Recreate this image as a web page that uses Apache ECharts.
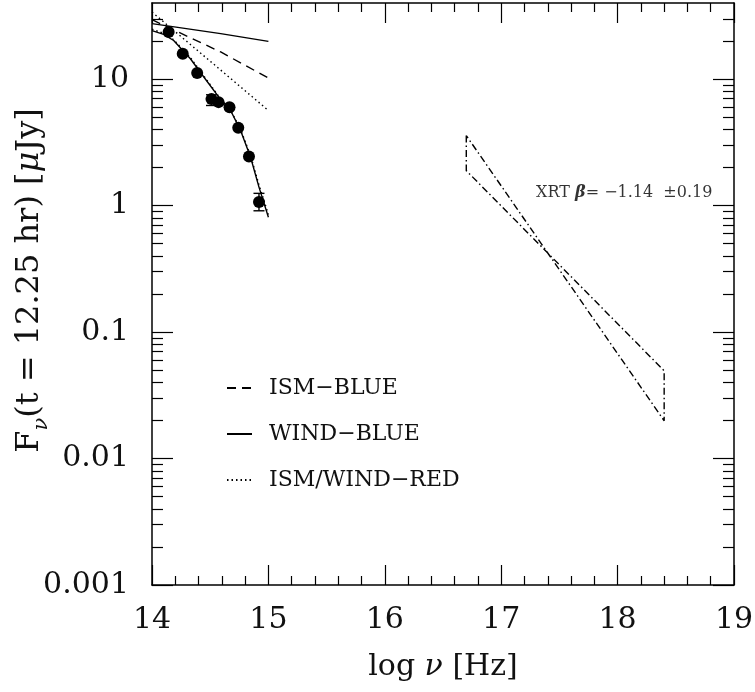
<!DOCTYPE html>
<html>
<head>
<meta charset="utf-8">
<title>SED at 12.25 hr</title>
<script src="https://cdn.jsdelivr.net/npm/echarts@6/dist/echarts.min.js"></script>
<style>
html,body{margin:0;padding:0;background:#fff;}
#chart{width:755px;height:692px;}
</style>
</head>
<body>
<div id="chart"></div>
<script>
// observed optical / NIR points (log nu [Hz], flux [uJy])
var obsNu=[14.143,14.264,14.388,14.511,14.572,14.666,14.741,14.833,14.919];
var obsFlux=[23.6,15.9,11.2,6.95,6.58,6.0,4.12,2.45,1.07];
// visible error bars only
var errNu=[14.511,14.919];
var errHi=[7.52,1.25];
var errLo=[6.19,0.91];

// unabsorbed models
var ismNu=[14.0,14.59,15.0];
var ismBlue=[29.5,16.4,10.2];
var windNu=[14.0,14.59,15.0];
var windBlue=[27.5,22.9,19.9];
var redNu=[14.0,14.59,15.0];
var redFlux=[33.9,11.8,5.65];

// reddened fits through the points
var fitNu=[14.0,14.1,14.186,14.33,14.445,14.574,14.675,14.761,14.847,14.919,15.0];
var fitBlue=[24.2,22.6,20.2,14.5,10.4,7.2,5.65,3.93,2.41,1.40,0.81];
var fitRed=[24.8,23.0,20.5,14.8,10.6,7.3,5.7,4.0,2.48,1.46,0.85];

// XRT bow tie
var xrtNu=[16.7,16.7,18.4,18.4,16.7];
var xrtFlux=[3.58,1.89,0.0494,0.0199,3.58];
var xrtLabelPos=[17.30,1.27];

// axis ticks
var xMin=14,xMax=19;
var yMin=0.001,yMax=40;
var yTickVals=[0.001,0.01,0.1,1,10];
var yTickLabels=['0.001','0.01','0.1','1','10'];
var legendNames=['ISM\u2212BLUE','WIND\u2212BLUE','ISM/WIND\u2212RED'];

var FONT='DejaVu Serif';

function zip(a,b){
    var out=[];
    for(var i=0;i<a.length;i++){ out.push([a[i],b[i]]); }
    return out;
}

var chartObj={
    chart:null,
    init:function(){
        this.chart=echarts.init(document.getElementById('chart'));
        this.chart.setOption(this.buildOption());
    },
    minorVals:function(){
        var vals=[];
        [0.001,0.01,0.1,1,10].forEach(function(d){
            for(var k=2;k<=9;k++){
                var v=parseFloat((d*k).toPrecision(3));
                if(v<yMax){ vals.push(v); }
            }
        });
        return vals;
    },
    yAxisPair:function(pos,withLabels){
        var line={show:true,lineStyle:{color:'#000',width:1.5}};
        var major={
            type:'log',position:pos,min:yMin,max:yMax,
            axisLine:line,
            splitLine:{show:false},
            axisTick:{show:true,inside:true,length:21,customValues:yTickVals,lineStyle:{color:'#000',width:1.2}},
            axisLabel:{show:withLabels,customValues:yTickVals,margin:23,
                fontFamily:FONT,fontSize:30,color:'#111',
                formatter:function(v){
                    for(var i=0;i<yTickVals.length;i++){
                        if(Math.abs(Math.log10(v)-Math.log10(yTickVals[i]))<1e-6){ return yTickLabels[i]; }
                    }
                    return '';
                }}
        };
        var minor={
            type:'log',position:pos,min:yMin,max:yMax,
            axisLine:{show:false},
            splitLine:{show:false},
            axisTick:{show:true,inside:true,length:11,customValues:this.minorVals(),lineStyle:{color:'#000',width:1.2}},
            axisLabel:{show:false}
        };
        return [major,minor];
    },
    xAxisOne:function(pos,withLabels){
        return {
            type:'value',position:pos,min:xMin,max:xMax,interval:1,
            axisLine:{show:true,onZero:false,lineStyle:{color:'#000',width:1.5}},
            splitLine:{show:false},
            axisTick:{show:true,inside:true,length:20,lineStyle:{color:'#000',width:1.2}},
            minorTick:{show:true,splitNumber:5,length:9,lineStyle:{color:'#000',width:1.2}},
            axisLabel:{show:withLabels,margin:20,fontFamily:FONT,fontSize:30,color:'#111'}
        };
    },
    buildOption:function(){
        var xBottom=this.xAxisOne('bottom',true);
        xBottom.name='log {it|\u03bd} [Hz]';
        xBottom.nameLocation='middle';
        xBottom.nameGap=67;
        xBottom.nameMoveOverlap=false;
        xBottom.nameTextStyle={fontFamily:FONT,fontSize:30,color:'#111',
            rich:{it:{fontFamily:FONT,fontSize:30,fontStyle:'italic',color:'#111'}}};

        var yLeft=this.yAxisPair('left',true);
        yLeft[0].name='F{sub|\u03bd}(t = 12.25 hr) [{it|\u03bc}Jy]';
        yLeft[0].nameLocation='middle';
        yLeft[0].nameGap=100;
        yLeft[0].nameMoveOverlap=false;
        yLeft[0].nameTextStyle={fontFamily:FONT,fontSize:32,color:'#111',padding:[0,0,0,27],
            rich:{
                sub:{fontFamily:FONT,fontSize:21,fontStyle:'italic',color:'#111',padding:[24,0,0,0]},
                it:{fontFamily:FONT,fontSize:32,fontStyle:'italic',color:'#111'}
            }};
        var yRight=this.yAxisPair('right',false);

        var lineBase={type:'line',symbol:'none',xAxisIndex:0,yAxisIndex:0,silent:true};
        function lineSeries(name,nu,flux,dash){
            return echarts.util.extend({
                name:name,
                data:zip(nu,flux),
                itemStyle:{color:'#000'},
                lineStyle:{color:'#000',width:1.4,type:dash}
            },lineBase);
        }

        return {
            animation:false,
            backgroundColor:'#fff',
            color:['#000'],
            grid:{left:152,right:21,top:3,bottom:107,containLabel:false,outerBoundsMode:'none'},
            legend:{
                data:legendNames,
                orient:'vertical',
                left:221,top:369,
                itemWidth:25,itemHeight:14,itemGap:18,
                selectedMode:false,
                itemStyle:{opacity:0},
                textStyle:{fontFamily:FONT,fontSize:22,color:'#111',padding:[0,0,0,12],lineHeight:28}
            },
            xAxis:[xBottom,this.xAxisOne('top',false)],
            yAxis:[yLeft[0],yLeft[1],yRight[0],yRight[1]],
            series:[
                lineSeries(legendNames[0],ismNu,ismBlue,[9,6]),
                lineSeries(legendNames[1],windNu,windBlue,'solid'),
                lineSeries(legendNames[2],redNu,redFlux,[1.5,3]),
                lineSeries('fit blue',fitNu,fitBlue,'solid'),
                lineSeries('fit red',fitNu,fitRed,[1.5,3]),
                lineSeries('XRT',xrtNu,xrtFlux,[7,3,1.5,3]),
                {
                    name:'obs',type:'scatter',symbol:'circle',symbolSize:12,
                    data:zip(obsNu,obsFlux),
                    itemStyle:{color:'#000',opacity:1},z:5
                },
                {
                    name:'err',type:'custom',z:5,
                    data:errNu.map(function(n,i){ return [n,errLo[i],errHi[i]]; }),
                    renderItem:function(params,api){
                        var lo=api.coord([api.value(0),api.value(1)]);
                        var hi=api.coord([api.value(0),api.value(2)]);
                        var w=5.5;
                        var st={stroke:'#000',lineWidth:1.4};
                        return {type:'group',children:[
                            {type:'line',shape:{x1:lo[0],y1:lo[1],x2:hi[0],y2:hi[1]},style:st},
                            {type:'line',shape:{x1:lo[0]-w,y1:lo[1],x2:lo[0]+w,y2:lo[1]},style:st},
                            {type:'line',shape:{x1:hi[0]-w,y1:hi[1],x2:hi[0]+w,y2:hi[1]},style:st}
                        ]};
                    }
                },
                {
                    name:'xrt label',type:'scatter',symbolSize:0,silent:true,
                    data:[xrtLabelPos],
                    label:{show:true,position:'right',distance:0,
                        formatter:'XRT {b|\u03b2}= \u22121.14  \u00b10.19',
                        fontFamily:FONT,fontSize:16,color:'#000',
                        rich:{b:{fontFamily:FONT,fontSize:16,fontWeight:'bold',fontStyle:'italic',color:'#000'}}}
                }
            ]
        };
    }
};

chartObj.init();
</script>
</body>
</html>
